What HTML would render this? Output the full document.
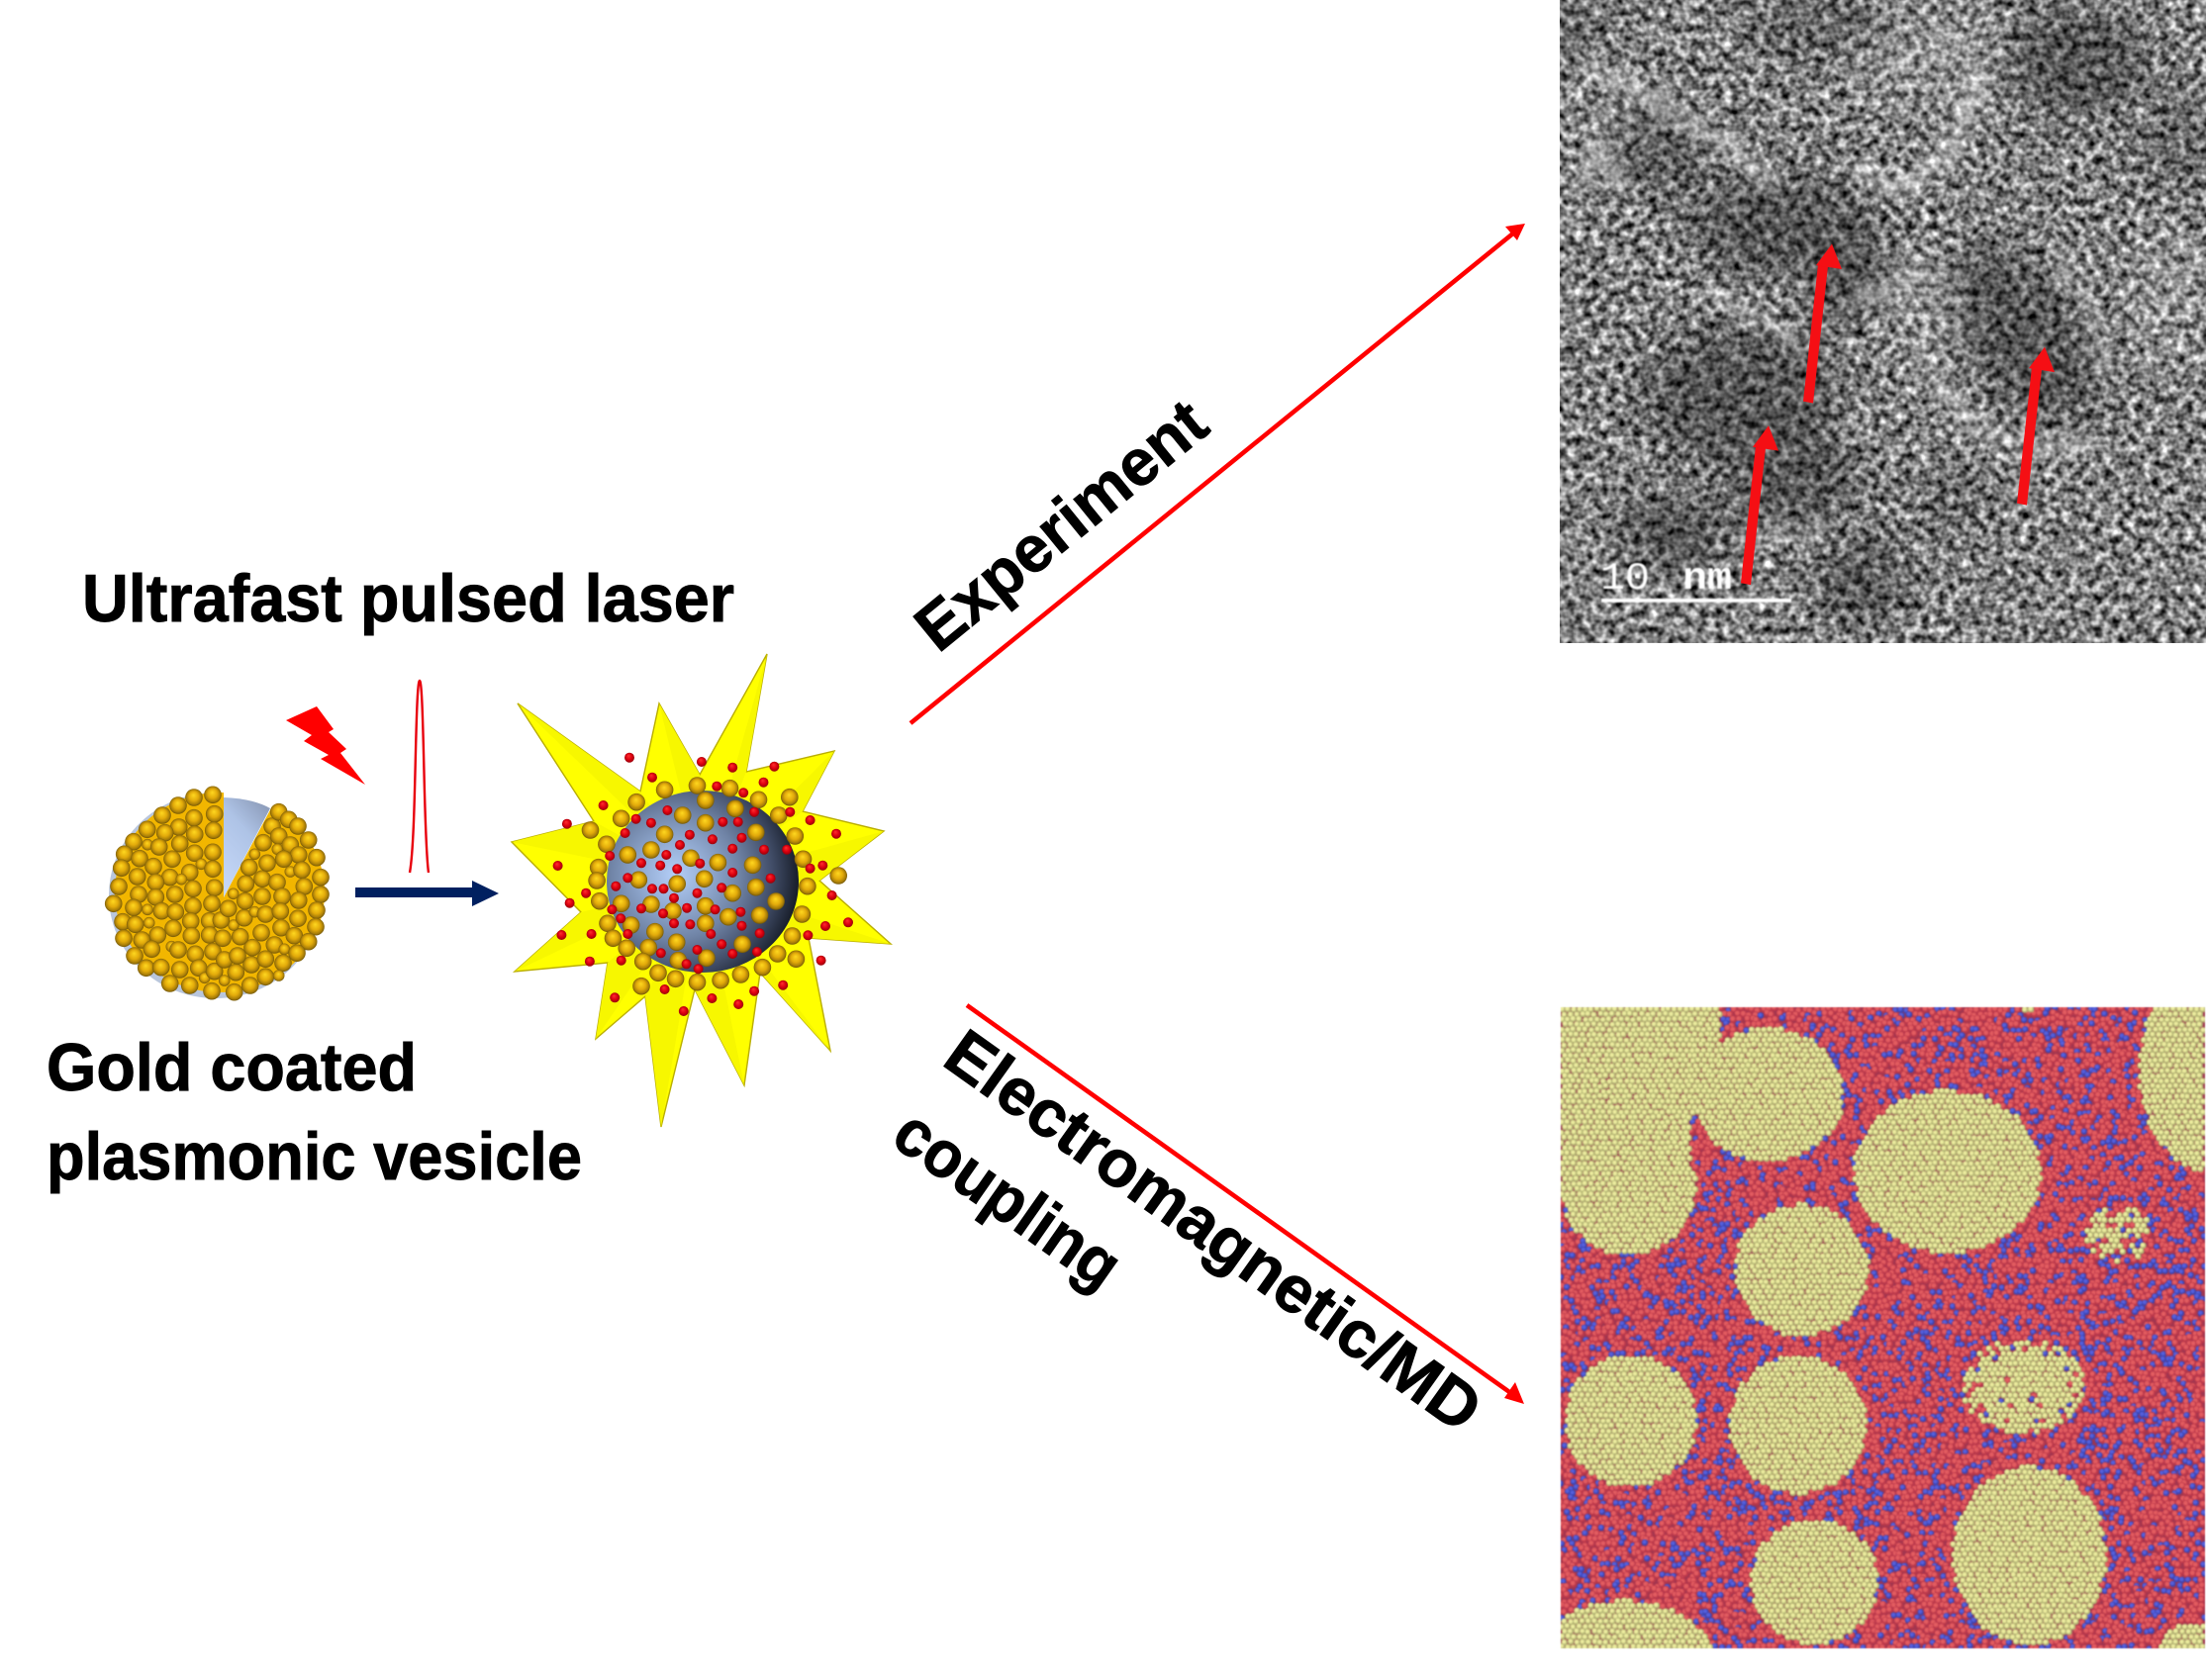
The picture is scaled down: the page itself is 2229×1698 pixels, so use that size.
<!DOCTYPE html>
<html><head><meta charset="utf-8">
<style>
html,body{margin:0;padding:0;background:#fff;width:2229px;height:1698px;overflow:hidden}
svg{position:absolute;left:0;top:0}
canvas{position:absolute;left:1577px;top:1018px;filter:blur(.5px)}
text{font-family:"Liberation Sans",sans-serif}
</style></head>
<body>
<svg id="s" width="2229" height="1698" viewBox="0 0 2229 1698" xmlns="http://www.w3.org/2000/svg">
<defs>
<radialGradient id="au" cx=".5" cy=".5" r=".54" fx=".47" fy=".36">
<stop offset="0" stop-color="#ffd820"/><stop offset=".5" stop-color="#e2aa0a"/><stop offset=".8" stop-color="#a67c08"/><stop offset="1" stop-color="#5c4606"/></radialGradient>
<radialGradient id="rd" cx=".5" cy=".5" r=".55" fx=".4" fy=".3">
<stop offset="0" stop-color="#ff3030"/><stop offset=".55" stop-color="#dd0010"/><stop offset="1" stop-color="#8a0008"/></radialGradient>
<radialGradient id="sph" gradientUnits="userSpaceOnUse" cx="682" cy="884" r="130">
<stop offset="0" stop-color="#b4cef7"/><stop offset=".25" stop-color="#93acd3"/><stop offset=".5" stop-color="#7084a6"/><stop offset=".75" stop-color="#434f6a"/><stop offset="1" stop-color="#10151f"/></radialGradient>
<linearGradient id="wd" x1=".7" y1="0" x2=".2" y2="1"><stop offset="0" stop-color="#8f9fbd"/><stop offset=".35" stop-color="#aec3e6"/><stop offset="1" stop-color="#c6d8f8"/></linearGradient>
<filter id="noise" x="0" y="0" width="100%" height="100%" color-interpolation-filters="sRGB">
<feTurbulence type="fractalNoise" baseFrequency="0.12" numOctaves="2" seed="7"/>
<feColorMatrix type="matrix" values="1.55 0 0 0 -0.27  1.55 0 0 0 -0.27  1.55 0 0 0 -0.27  0 0 0 0 1"/>
</filter>
<filter id="b16" x="-40%" y="-40%" width="180%" height="180%"><feGaussianBlur stdDeviation="18"/></filter>
<filter id="b5" x="-20%" y="-20%" width="140%" height="140%"><feGaussianBlur stdDeviation="7"/></filter>
<filter id="b1"><feGaussianBlur stdDeviation="0.7"/></filter>
<clipPath id="tc"><rect x="1576" y="0" width="653" height="650"/></clipPath>
</defs>

<!-- TEM panel -->
<g clip-path="url(#tc)">
<rect x="1576" y="0" width="653" height="650" fill="#808080" filter="url(#noise)"/>
<g transform="scale(1,.982)">
<g fill="#fff" filter="url(#b16)" opacity=".16">
<ellipse cx="1950" cy="60" rx="90" ry="50"/>
<ellipse cx="1950" cy="330" rx="40" ry="70"/>
<ellipse cx="2190" cy="300" rx="40" ry="80"/>
<ellipse cx="1640" cy="120" rx="50" ry="20"/>
</g>
<g fill="#000" filter="url(#b16)" opacity=".33">
<ellipse cx="2096" cy="64" rx="70" ry="55"/>
<ellipse cx="1676" cy="154" rx="50" ry="50" opacity=".8"/>
<ellipse cx="1800" cy="232" rx="95" ry="52"/>
<ellipse cx="1865" cy="270" rx="38" ry="65"/>
<ellipse cx="2044" cy="345" rx="58" ry="105" transform="rotate(-32 2044 345)"/>
<ellipse cx="1757" cy="407" rx="100" ry="70"/>
<ellipse cx="1812" cy="490" rx="70" ry="50"/>
<ellipse cx="1689" cy="548" rx="60" ry="40"/>
<ellipse cx="1880" cy="600" rx="45" ry="45"/>
<ellipse cx="1970" cy="515" rx="40" ry="35" opacity=".6"/>
<ellipse cx="1838" cy="26" rx="70" ry="35" opacity=".7"/>
<ellipse cx="2200" cy="150" rx="45" ry="60" opacity=".5"/>
<ellipse cx="1590" cy="30" rx="40" ry="40" opacity=".5"/>
</g>
<g fill="none" stroke="#fff" stroke-linecap="round" filter="url(#b5)" opacity=".46">
<path d="M1600 70 L1670 100 L1760 160 L1790 190" stroke-width="14"/>
<path d="M1880 175 L1915 195 L1965 165 L2000 90" stroke-width="16"/>
<path d="M1725 300 L1775 325 L1815 350" stroke-width="11"/>
<path d="M1960 400 L1995 440 L2050 460 L2110 455" stroke-width="13"/>
<path d="M2075 255 L2115 325 L2130 380" stroke-width="9"/>
<path d="M1870 435 L1880 450" stroke-width="9"/>
<path d="M1785 545 L1850 545" stroke-width="8"/>
<path d="M1880 310 L1940 280" stroke-width="12"/>
<path d="M1600 190 L1610 150 L1640 190" stroke-width="12"/>
</g>
<g fill="#fff" filter="url(#b1)">
<rect x="1618" y="616" width="192" height="4"/>
<text x="1617" y="606" style="font-family:'Liberation Mono',monospace" font-size="40" textLength="50" lengthAdjust="spacingAndGlyphs">10</text>
<text x="1700" y="606" style="font-family:'Liberation Mono',monospace" font-size="40" font-weight="bold" textLength="50" lengthAdjust="spacingAndGlyphs">nm</text>
</g>
<g fill="#f50f14">
<polygon points="1822,413 1832,415 1847,274 1837,272"/>
<polygon points="1851,251 1861,277 1835,273"/>
<polygon points="2038,518 2048,520 2063,380 2053,378"/>
<polygon points="2066,357 2076,383 2050,379"/>
<polygon points="1759,600 1769,602 1784,461 1774,459"/>
<polygon points="1787,438 1797,464 1771,460"/>
</g>
</g>
</g>

<!-- main connectors -->
<g stroke="#f00" stroke-width="4.6" fill="none">
<line x1="920" y1="731" x2="1530" y2="235"/>
<line x1="977" y1="1016" x2="1528" y2="1409"/>
</g>
<polygon points="1541,226 1533,243 1521,229" fill="#f00"/>
<polygon points="1540,1419 1520,1413 1531,1397" fill="#f00"/>

<!-- labels -->
<g fill="#000" stroke="#000" stroke-width="0.9" font-weight="bold">
<text x="83" y="628" font-size="68" textLength="659" lengthAdjust="spacingAndGlyphs">Ultrafast pulsed laser</text>
<text x="47" y="1102" font-size="68" textLength="374" lengthAdjust="spacingAndGlyphs">Gold coated</text>
<text x="47" y="1192" font-size="68" textLength="541" lengthAdjust="spacingAndGlyphs">plasmonic vesicle</text>
<text transform="translate(948,661) rotate(-39.2)" font-size="66" textLength="357" lengthAdjust="spacingAndGlyphs">Experiment</text>
<text transform="translate(950,1075) rotate(35.5)" font-size="67" textLength="646" lengthAdjust="spacingAndGlyphs">Electromagnetic/MD</text>
<text transform="translate(898,1155) rotate(35)" font-size="67" textLength="262" lengthAdjust="spacingAndGlyphs">coupling</text>
</g>

<!-- lightning, pulse, arrow -->
<polygon points="289,728 320,714 337,737 332,740 350,757 344,761 369,793 324,767 332,763 307,749 315,743" fill="#f00"/>
<path d="M414 882 C418 860 419 800 420 760 C421 720 422 688 424 688 C426 688 427 720 428 760 C429 800 430 860 433 882" fill="none" stroke="#e8000c" stroke-width="2.4"/>
<rect x="359" y="897" width="118" height="10" fill="#002060"/>
<polygon points="477,890 504,903 477,916" fill="#002060"/>

<!-- gold vesicle -->
<ellipse cx="218" cy="905" rx="108" ry="104" fill="#b9c6dc"/>
<ellipse cx="222" cy="902" rx="106" ry="101" fill="#f2b600"/>
<path d="M226 907 L226 799 L276 799 L276 813 Z" fill="#fff"/>
<path d="M226 907 L226 806 Q255 807 273 817 Z" fill="url(#wd)"/>
<g id="disc"></g>

<!-- star -->
<g id="star"></g>
<ellipse cx="710" cy="891" rx="97" ry="92" fill="url(#sph)"/>
<g id="parts"></g>
</svg>
<canvas id="c" width="651" height="648"></canvas>
<script>
(function(){
var seed=12345;function R(){seed=(seed*1664525+1013904223)>>>0;return seed/4294967296;}
var NS='http://www.w3.org/2000/svg';
function el(n,a,p){var e=document.createElementNS(NS,n);for(var k in a)e.setAttribute(k,a[k]);p.appendChild(e);return e;}
/* disc: [x,y,small?] in 3x crop coords */
var B=[[345,310],[288,318],[240,342],[192,372],[350,368],[288,380],[146,415],[242,408],[347,418],[200,425],[290,430],[105,452],[147,461,1],[182,468],[245,458],[77,490],[123,503],[290,487],[345,484],[68,532],[165,527],[222,505],[310,520,1],[345,535],[275,545],[116,558],[215,560],[250,566,1],[60,588],[172,575],[285,595],[350,592],[120,612],[230,612],[172,620],[44,640],[105,652],[285,647],[342,640],[147,658,1],[190,662],[232,665],[72,695],[278,693],[110,703],[152,698,1],[225,715],[335,692],[75,745],[178,735],[280,737],[130,750],[335,735],[160,778],[220,770,1],[240,780],[108,798],[292,793],[345,785],[143,835],[188,833],[245,840],[302,835],[215,882],[275,888],[320,865,1],[350,845],[342,905],[380,873,1],[410,908],[458,888],[415,848],[380,810],[462,825],[420,798],[465,773],[375,745],[428,740],[408,705,1],[370,690],[440,683],[392,655],[407,610,1],[443,632],[445,580],[495,565],[540,575],[455,530],[510,517],[472,490,1],[498,455],[525,405],[545,362],[575,385],[603,405],[545,435],[541,475,1],[580,462],[635,447],[605,492],[560,505],[660,500],[580,543,1],[615,538],[672,560],[622,588],[555,618],[495,618],[605,630],[672,612],[472,665,1],[505,672],[550,663],[660,660],[603,685],[657,710],[492,728],[552,713],[592,737],[635,755],[532,765],[562,778,1],[600,790],[505,808],[558,820],[505,862],[545,858,1]];
var dg=document.getElementById('disc');
B.forEach(function(b){el('circle',{cx:(100+b[0]/3).toFixed(1),cy:(700+b[1]/3).toFixed(1),r:b[2]?5.8:8.8,fill:'url(#au)'},dg)});
/* star */
var T=[[523,711],[666,711],[775,661],[843,759],[893,840],[900,954],[839,1062],[752,1097],[668,1139],[602,1050],[520,982],[517,851]];
var V=[[647,800],[707,783],[754,780],[811,820],[828,890],[817,948],[768,983],[702,1000],[652,1007],[614,973],[587,922],[600,830]];
var st=document.getElementById('star'),pts=[];
for(var i=0;i<12;i++){pts.push(T[i].join(','));pts.push(V[i].join(','));}
el('polygon',{points:pts.join(' '),fill:'#ffff00',stroke:'#b9ad00','stroke-width':1.4},st);
for(i=0;i<12;i++){var n=T[i],v=V[i];
 el('polygon',{points:n.join(',')+' '+v.join(',')+' 710,891',fill:'#f7f700'},st);
}
/* gold + red particles */
var G=[[1115,475],[1175,462],[1235,470],[1063,512],[1190,507],[1288,505],[1345,497],[1035,562],[1148,552],[1245,532],[1325,552],[978,597],[1115,610],[1190,575],[1283,604],[1355,615],[1008,640],[1047,672],[1090,657],[1163,682],[1213,695],[1277,703],[1370,685],[993,710],[990,750],[1067,748],[1138,760],[1188,745],[1283,770],[1240,788],[1378,767],[1435,735],[995,812],[1035,820],[1090,822],[1130,842],[1190,827],[1320,813],[1232,860],[1290,855],[1368,852],[1010,880],[1053,885],[1190,880],[1097,905],[1020,925],[1137,937],[1258,943],[1350,918],[1045,955],[1085,953],[1323,972],[1357,988],[1075,995],[1140,992],[1192,985],[1103,1030],[1295,1013],[1135,1048],[1255,1035],[1218,1052],[1175,1058],[1072,1070]];
var D=[[1050,377],[1183,390],[1240,407],[1317,404],[1092,437],[1297,452],[1211,464],[1260,484],[1002,522],[1120,537],[1280,542],[1346,542],[1062,563],[1090,575],[1222,572],[1250,572],[1383,567],[935,578],[1042,606],[1161,611],[1203,625],[1257,620],[1431,608],[1143,642],[1240,653],[1298,656],[1340,656],[1118,672],[1014,675],[918,705],[1072,697],[1107,704],[1180,698],[1138,715],[1383,713],[1406,704],[1240,726],[1047,742],[1310,743],[1025,767],[1092,775],[1113,775],[1220,772],[1175,788],[970,788],[1423,795],[1132,803],[940,818],[1072,835],[1156,833],[1018,838],[1208,838],[1255,845],[1112,850],[1034,865],[1132,880],[1162,883],[1257,887],[1453,877],[1411,888],[925,915],[980,912],[1047,912],[1200,912],[1290,910],[1379,916],[1220,943],[1108,970],[1175,960],[1240,972],[1285,966],[1035,992],[977,995],[1155,1003],[1177,1018],[1403,992],[1115,1080],[1333,1067],[1280,1085],[1023,1105],[1202,1107],[1251,1125],[1150,1146]];
var P=document.getElementById('parts');
function mx(z){return (60+z/1.823).toFixed(1)}function my(z){return (640+z/3).toFixed(1)}
G.forEach(function(b){el('circle',{cx:mx(b[0]),cy:my(b[1]),r:8.8,fill:'url(#au)'},P)});
D.forEach(function(b){el('circle',{cx:mx(b[0]),cy:my(b[1]),r:5,fill:'url(#rd)'},P)});
/* MD panel */
var c=document.getElementById('c').getContext('2d');
c.fillStyle='#a03650';c.fillRect(0,0,651,648);
function E(x,y,cx,cy,rx,ry){var a=(x-cx)/rx,b=(y-cy)/ry;return a*a+b*b;}
function solid(x,y){
 if(x<415&&y<295)return true;
 if(x<345&&y<460)return true;
 return E(x,y,200,460,160,160)<1||E(x,y,530,245,180,155)<1||E(x,y,955,425,222,188)<1||E(x,y,610,655,158,153)<1||E(x,y,1590,190,182,240)<1||E(x,y,1147,50,20,8)<1||E(x,y,205,1005,155,155)<1||E(x,y,602,1015,162,160)<1||E(x,y,1150,1320,182,208)<1||E(x,y,640,1380,150,145)<1||E(x,y,190,1580,220,155)<1||E(x,y,1560,1545,105,70)<1;
}
function dot(x,y,r,o,i){c.fillStyle=o;c.beginPath();c.arc(x,y,r,0,6.3);c.fill();c.fillStyle=i;c.beginPath();c.arc(x-.5,y-.6,r*.68,0,6.3);c.fill();}
var yy=[],row=0;
for(var py=2;py<648;py+=5.2,row++){
 for(var qx=(row%2?3:0)+1;qx<650;qx+=6){
  var zx=(qx+17)*2.344,zy=(py+18.2)*2.306,yel=solid(zx,zy);
  if(!yel){
   var e1=E(zx,zy,1135,925,145,110),e2=E(zx,zy,1360,570,78,65);
   if(e1<.55)yel=R()<.95;else if(e1<1)yel=R()<.7;
   else if(e2<1)yel=R()<.62;
  }
  if(yel){yy.push([qx,py]);continue;}
  var jx=qx+(R()-.5)*3.6,jy=py+(R()-.5)*3.6;
  if(R()<.26)dot(jx,jy,3.1,'#3c46b4','#5660dc');else dot(jx,jy,3.6,'#bc3a4c','#e25c60');
 }
}
yy.forEach(function(p){dot(p[0]+(R()-.5)*1.2,p[1]+(R()-.5)*1.2,3.2,'#b4b474','#ecec9e');});
})();
</script>
</body></html>
